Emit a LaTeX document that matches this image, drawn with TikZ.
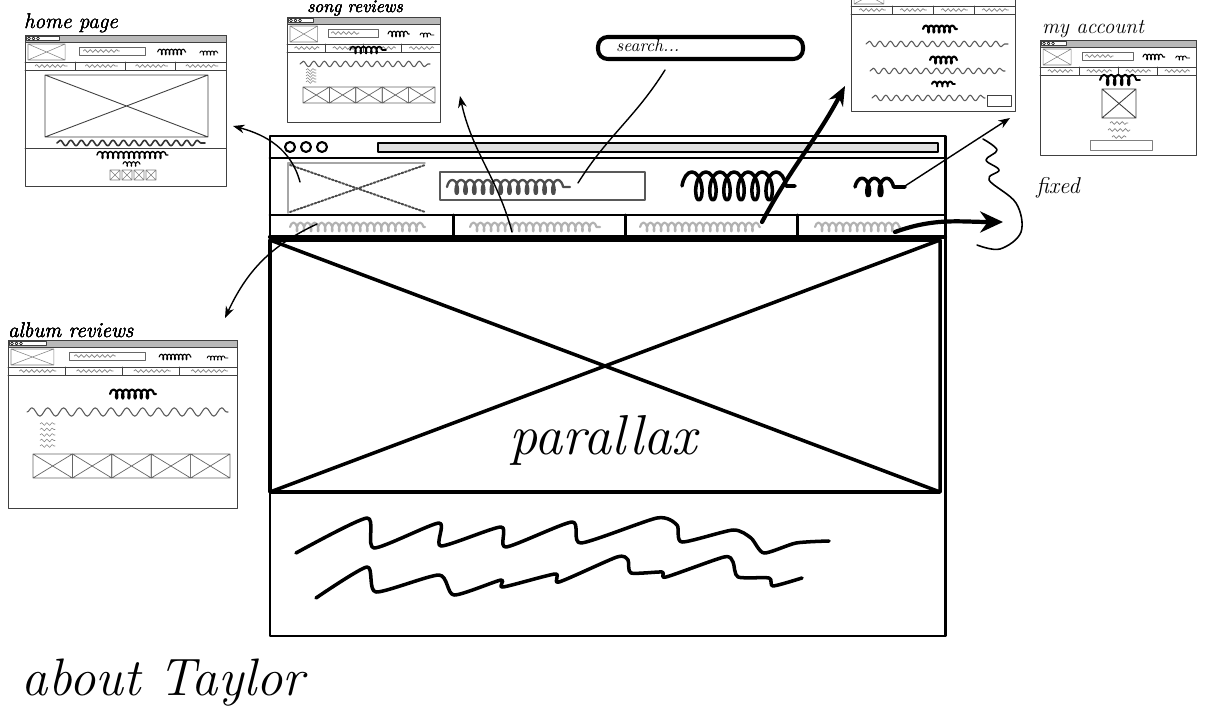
\documentclass[tikz,border=0pt]{standalone}
\usepackage{tikz}
\usetikzlibrary{arrows.meta,decorations.pathmorphing}

% box with a cross in it: [style]{x1}{y1}{x2}{y2}
\newcommand{\crossbox}[5][]{\draw[#1] (#2,#3) rectangle (#4,#5) (#2,#3) -- (#4,#5) (#2,#5) -- (#4,#3);}

% small browser page: {x}{y}{width}{height}
\newcommand{\wirethumb}[4]{%
  \begin{scope}[shift={(#1,#2)}]
    \draw[thumb, fill=white] (0,0) rectangle (#3,#4);
    % browser bar
    \draw[thumb, fill=gray!55] (0,0) rectangle (#3,7);
    \draw[thumb, fill=white] (1,1.2) rectangle (0.17*#3,5.8);
    \foreach \d in {4,8.5,13} \draw[line width=0.3pt] (\d,3.5) circle (1.4);
    % header and nav
    \draw[thumb] (0,27) -- (#3,27) (0,35) -- (#3,35);
    \crossbox[gray, line width=0.3pt]{3}{9}{0.2*#3}{25}
    \draw[gray!80!black, line width=0.5pt] (0.27*#3,12) rectangle (0.6*#3,20);
    \draw[hairwave] (0.29*#3,16) -- (0.47*#3,16);
    \draw[scrib, line width=0.6pt, decoration={amplitude=1.6pt, segment length=2.2pt}] (0.66*#3,17) -- (0.8*#3,17);
    \draw[scrib, line width=0.5pt, decoration={amplitude=1.2pt, segment length=2pt}] (0.87*#3,18) -- (0.96*#3,18);
    \foreach \k in {0.25,0.5,0.75} \draw[thumb] (\k*#3,27) -- (\k*#3,35);
    \foreach \k in {0.05,0.3,0.55,0.8} \draw[hairwave] (\k*#3,31) -- (\k*#3+0.16*#3,31);
  \end{scope}}

\begin{document}
\begin{tikzpicture}[x=0.02cm, y=-0.02cm, >=Stealth, line cap=round, line join=round,
  every node/.style={font=\itshape},
  thumb/.style={draw=black!75, line width=0.5pt},
  scrib/.style={decorate, decoration={coil, aspect=0.45, segment length=3pt, amplitude=2pt}, line width=0.9pt},
  wave/.style={decorate, decoration={snake, segment length=6pt, amplitude=1.6pt}, draw=gray!70!black, line width=0.6pt},
  hairwave/.style={decorate, decoration={snake, segment length=3pt, amplitude=0.8pt}, draw=gray, line width=0.4pt},
  mainline/.style={line width=1.7pt},
  link/.style={->, line width=0.8pt},
  boldlink/.style={-{Stealth[length=11pt,width=9pt]}, line width=2.4pt}]

  \fill[white] (0,0) rectangle (1209,712);
  \useasboundingbox (0,0) rectangle (1209,712);

  % ---------- thumbnails ----------
  % home page
  \wirethumb{25}{35}{201}{151}
  \crossbox[thumb]{45}{75}{208}{137}
  \draw[wave, draw=black!80, line width=0.9pt] (57,143) -- (205,143);
  \draw[thumb] (25,148) -- (226,148);
  \draw[scrib, line width=0.8pt] (97,155) -- (168,155);
  \draw[scrib, line width=0.6pt, decoration={amplitude=1.3pt, segment length=2.4pt}] (123,164) -- (140,164);
  \foreach \i in {0,1,2,3} \crossbox[gray, line width=0.3pt]{110+12*\i}{170}{120+12*\i}{180}
  \node[anchor=south west, inner sep=1pt, font=\itshape\fontsize{12}{12}\selectfont] (homelbl) at (22,35) {home page};

  % song reviews
  \wirethumb{287}{17}{153}{105}
  \draw[scrib] (350,50) -- (386,50);
  \draw[wave] (300,64) -- (430,64);
  \foreach \i in {0,...,4} \draw[hairwave, line width=0.3pt] (306,70+3*\i) -- (316,70+3*\i);
  \foreach \i in {0,...,4} \crossbox[gray!80!black, line width=0.4pt]{303+26.4*\i}{87}{329.4+26.4*\i}{103}
  \node[anchor=south, inner sep=0.5pt, font=\itshape\fontsize{10}{10}\selectfont] (songlbl) at (355,17) {song reviews};

  % page at the top right
  \wirethumb{851}{-21}{164}{132}
  \draw[scrib, line width=1.2pt] (923,29) -- (957,29);
  \draw[wave] (866,44) -- (1008,44);
  \draw[scrib, line width=1.2pt] (930,60) -- (957,60);
  \draw[wave] (870,71) -- (1005,71);
  \draw[scrib, line width=1.1pt, decoration={amplitude=1.4pt}] (932,84) -- (955,84);
  \draw[wave] (872,98) -- (985,98);
  \draw[thumb] (987,95) rectangle (1011,106);

  % my account
  \wirethumb{1040}{40}{156}{115}
  \draw[scrib, line width=1.1pt, decoration={amplitude=3pt, segment length=4pt}] (1100,80) -- (1140,80);
  \crossbox[thumb]{1102}{89}{1136}{118}
  \draw[hairwave] (1110,123) -- (1128,123);
  \draw[hairwave] (1108,130) -- (1130,130);
  \draw[hairwave] (1112,137) -- (1126,137);
  \draw[thumb, draw=gray] (1090,140) rectangle (1152,150);
  \node[anchor=south west, inner sep=1pt, font=\itshape\fontsize{12}{12}\selectfont] (acctlbl) at (1040,40) {my account};

  % album reviews
  \wirethumb{8}{340}{229}{168}
  \draw[scrib, line width=1.2pt, decoration={amplitude=2.6pt, segment length=3.5pt}] (110,394) -- (156,394);
  \draw[wave, decoration={segment length=9pt, amplitude=2.4pt}] (27,412) -- (228,412);
  \foreach \i in {0,...,4} \draw[hairwave, line width=0.3pt] (40,424+5.5*\i) -- (55,424+5.5*\i);
  \foreach \i in {0,...,4} \crossbox[gray!80!black, line width=0.4pt]{33+39.4*\i}{454}{72.4+39.4*\i}{478}
  \node[anchor=south west, inner sep=1pt, font=\itshape\fontsize{12}{12}\selectfont] (albumlbl) at (6,340) {album reviews};

  % ---------- main page ----------
  \draw[mainline] (270,136) rectangle (945,636);
  % browser bar
  \draw[mainline] (270,158) -- (945,158);
  \foreach \d in {290,306,322} \draw[line width=1.2pt] (\d,147) circle (5);
  \draw[line width=1.2pt, fill=gray!25] (378,143) rectangle (938,152);
  % header
  \draw[gray!70, line width=0.8pt] (288,213) -- (288,163) -- (425,163);
  \draw[densely dotted, line width=1.1pt, gray!60!black] (290,165) -- (425,212) (290,212) -- (425,165);
  \draw[gray!70!black, line width=1.6pt] (440,172) rectangle (645,200);
  \draw[decorate, decoration={coil, aspect=0.45, segment length=5pt, amplitude=4pt}, gray!60!black, line width=1.3pt] (447,187) -- (570,187);
  \draw[scrib, line width=2pt, decoration={amplitude=8pt, segment length=8pt}] (682,186) -- (795,186);
  \draw[scrib, line width=2pt, decoration={amplitude=5pt, segment length=7pt}] (855,187) -- (905,187);
  % nav row
  \draw[mainline] (270,215) -- (945,215);
  \foreach \x in {453,625,797} \draw[mainline] (\x,215) -- (\x,237);
  \foreach \x/\w in {290/135,470/130,640/120,815/85} \draw[decorate, decoration={coil, aspect=0.4, segment length=4pt, amplitude=2.5pt}, gray!60, line width=1.2pt] (\x,227) -- (\x+\w,227);
  \draw[line width=2.4pt] (270,237) -- (945,237);
  % parallax image
  \crossbox[line width=2pt]{270}{240}{940}{492}
  \node[font=\itshape\fontsize{32}{32}\selectfont] (parallax) at (603,440) {parallax};
  % text block
  \draw[line width=2pt] plot[smooth, tension=0.4] coordinates {(296,553) (367,518) (374,548) (439,523) (441,546) (501,527) (506,547) (572,522) (581,543) (657,518) (677,525) (682,542) (733,530) (751,538) (764,553) (796,543) (829,541)};
  \draw[line width=2pt] plot[smooth, tension=0.4] coordinates {(316,598) (367,567) (376,592) (439,575) (454,595) (501,580) (503,587) (555,574) (559,582) (617,557) (628,560) (631,573) (662,572) (666,577) (724,557) (733,562) (738,577) (769,578) (773,586) (802,578)};

  % search field
  \draw[line width=2.3pt, rounded corners=5.5pt] (598,37) rectangle (803,59);
  \node[anchor=west, font=\itshape\fontsize{10}{10}\selectfont] (searchlbl) at (610,46) {search...};

  % fixed
  \node[font=\itshape\fontsize{13}{13}\selectfont] (fixedlbl) at (1058,188) {fixed};
  \draw[line width=0.9pt] plot[smooth, tension=0.6] coordinates {(983,139) (997,150) (986,160) (999,170) (989,180) (1016,203) (1021,232) (1000,249) (977,245)};

  % ---------- links ----------
  \coordinate (logoend) at (300,182);
  \coordinate (homeend) at (233,126);
  \coordinate (navA) at (317,224);
  \coordinate (albumend) at (225,318);
  \coordinate (navB) at (512,232);
  \coordinate (songend) at (460,96);
  \coordinate (searchend) at (578,183);
  \coordinate (balloon) at (665,70);
  \coordinate (navC) at (762,222);
  \coordinate (topend) at (845,86);
  \coordinate (acctend) at (905,186);
  \coordinate (acctto) at (1010,118);
  \coordinate (navD) at (895,232);
  \coordinate (fixedend) at (1003,222);

  \draw[link] (logoend) to[out=105, in=-15] (homeend);
  \draw[link] (navA) to[out=-155, in=65] (albumend);
  \draw[link] (navB) to[out=105, in=-78] (songend);
  \draw[line width=0.8pt] (searchend) to[out=58, in=-122] (balloon);
  \draw[boldlink] (navC) to[out=62, in=-118] (topend);
  \draw[link] (acctend) -- (acctto);
  \draw[boldlink, -{Stealth[length=13pt,width=12pt]}] (navD) to[out=20, in=180] (fixedend);

  % heading
  \node[font=\itshape\fontsize{30}{30}\selectfont] (aboutlbl) at (163,683) {about Taylor};
\end{tikzpicture}
\end{document}
